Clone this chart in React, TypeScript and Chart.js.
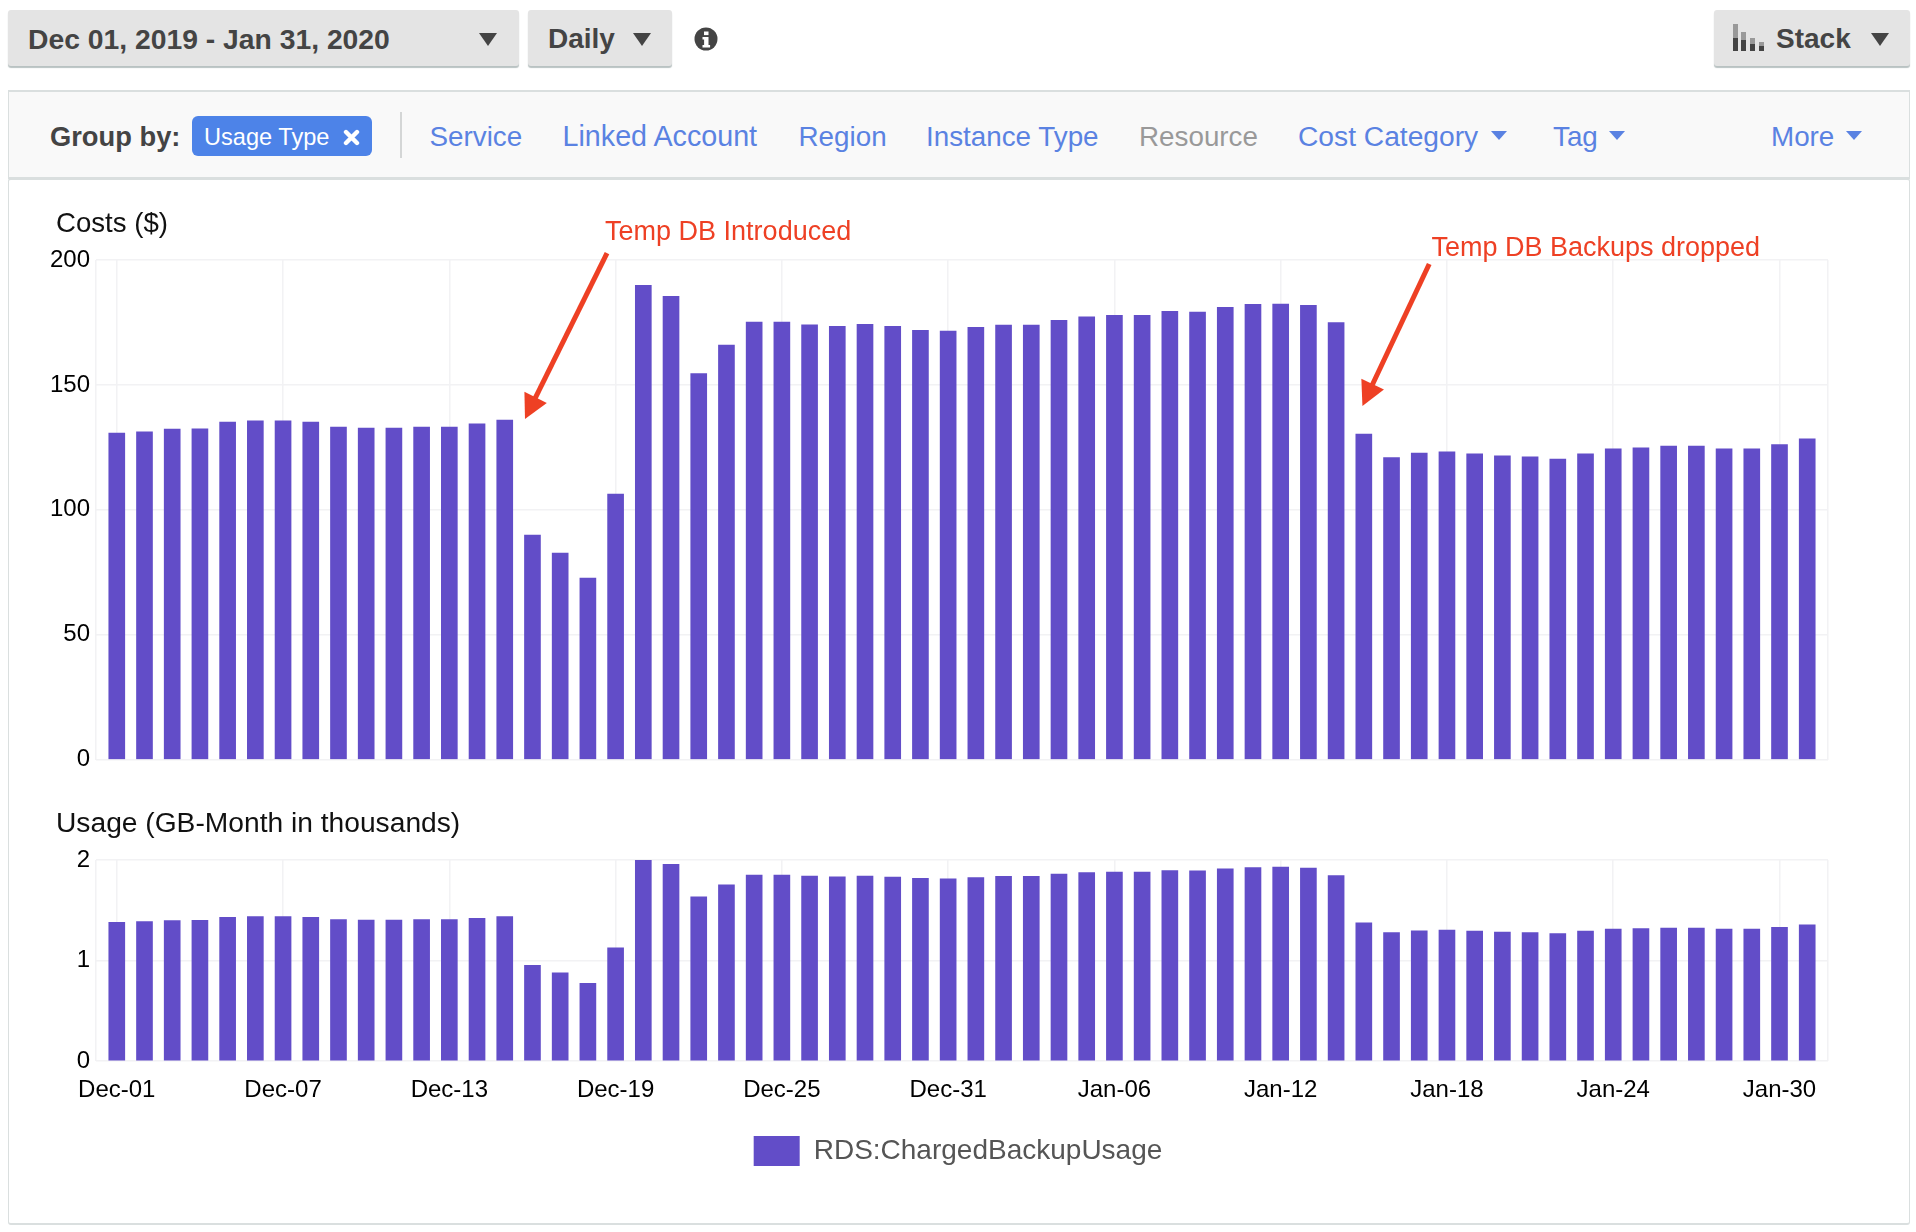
import React, { useEffect, useRef } from "react";
import { Chart, registerables } from "chart.js";

Chart.register(...registerables);

const FONT = '"Liberation Sans", Arial, sans-serif';
const BAR = "#624dc8";
const GRID = "#f2f2f4";
const RED = "#ee4024";
const LINK = "#5a82e2";

const categories = [
  "Dec-01","Dec-02","Dec-03","Dec-04","Dec-05","Dec-06","Dec-07","Dec-08","Dec-09","Dec-10","Dec-11",
  "Dec-12","Dec-13","Dec-14","Dec-15","Dec-16","Dec-17","Dec-18","Dec-19","Dec-20","Dec-21","Dec-22",
  "Dec-23","Dec-24","Dec-25","Dec-26","Dec-27","Dec-28","Dec-29","Dec-30","Dec-31","Jan-01","Jan-02",
  "Jan-03","Jan-04","Jan-05","Jan-06","Jan-07","Jan-08","Jan-09","Jan-10","Jan-11","Jan-12","Jan-13",
  "Jan-14","Jan-15","Jan-16","Jan-17","Jan-18","Jan-19","Jan-20","Jan-21","Jan-22","Jan-23","Jan-24",
  "Jan-25","Jan-26","Jan-27","Jan-28","Jan-29","Jan-30","Jan-31",
];

const costs = [
  130.7,131.2,132.3,132.4,135.1,135.6,135.6,135.1,133.1,132.7,132.7,133.1,133.1,134.4,135.9,
  89.9,82.7,72.7,106.3,189.9,185.5,154.5,165.9,175.2,175.2,174.1,173.5,174.3,173.5,171.9,171.6,
  173.1,174,174,175.9,177.3,177.9,177.9,179.5,179.2,181.1,182.3,182.4,181.9,175,
  130.3,120.9,122.7,123.2,122.4,121.6,121.2,120.3,122.4,124.4,124.8,125.5,125.5,124.4,124.4,126.1,128.4,
];

const usage = [
  1.38,1.387,1.397,1.4,1.43,1.437,1.437,1.43,1.407,1.403,1.403,1.407,1.407,1.42,1.437,
  0.953,0.877,0.773,1.127,2.0,1.957,1.633,1.753,1.85,1.85,1.84,1.833,1.84,1.83,1.817,1.813,
  1.826,1.839,1.839,1.86,1.876,1.88,1.88,1.896,1.893,1.913,1.926,1.93,1.92,1.846,
  1.375,1.278,1.296,1.304,1.294,1.284,1.278,1.268,1.294,1.314,1.318,1.324,1.324,1.314,1.314,1.331,1.355,
];

const seriesName = "RDS:ChargedBackupUsage";
const tickEvery = 6;
const xMin = -0.75;
const xMax = 61.75;

const annotations = [
  { text: "Temp DB Introduced", textIndex: 17.62, textValue: 211, tailIndex: 17.69, tailValue: 202.8, tipIndex: 14.73, tipValue: 136.4 },
  { text: "Temp DB Backups dropped", textIndex: 47.44, textValue: 204.6, tailIndex: 47.36, tailValue: 198.4, tipIndex: 44.95, tipValue: 141.6 },
];

const annotationPlugin = {
  id: "callouts",
  afterDatasetsDraw(chart: any) {
    const { ctx, scales } = chart;
    const x = scales.x;
    const y = scales.y;
    ctx.save();
    for (const a of annotations) {
      const tx = x.getPixelForValue(a.tailIndex);
      const ty = y.getPixelForValue(a.tailValue);
      const px = x.getPixelForValue(a.tipIndex);
      const py = y.getPixelForValue(a.tipValue);
      const len = Math.hypot(px - tx, py - ty);
      const dx = (px - tx) / len;
      const dy = (py - ty) / len;
      const bx = px - dx * 24;
      const by = py - dy * 24;
      ctx.strokeStyle = RED;
      ctx.fillStyle = RED;
      ctx.lineWidth = 5;
      ctx.beginPath();
      ctx.moveTo(tx, ty);
      ctx.lineTo(bx + dx * 4, by + dy * 4);
      ctx.stroke();
      ctx.beginPath();
      ctx.moveTo(px, py);
      ctx.lineTo(bx - dy * 12.5, by + dx * 12.5);
      ctx.lineTo(bx + dy * 12.5, by - dx * 12.5);
      ctx.closePath();
      ctx.fill();
      ctx.font = `27px ${FONT}`;
      ctx.textAlign = "left";
      ctx.textBaseline = "middle";
      ctx.fillText(a.text, x.getPixelForValue(a.textIndex), y.getPixelForValue(a.textValue));
    }
    ctx.restore();
  },
};

const boxShift = {
  id: "boxShift",
  afterLayout(chart: any) {
    if (chart.titleBlock) {
      chart.titleBlock.left += 6;
      chart.titleBlock.right += 6;
    }
    if (chart.legend) {
      chart.legend.left += 19;
      chart.legend.right += 19;
    }
  },
};

function buildConfig(values: number[], title: string, titleSize: number, yMax: number, step: number, showX: boolean, xH: number, titleTop: number, titleBottom: number, plugins: any[]) {
  return {
    type: "bar",
    data: {
      datasets: [
        {
          label: seriesName,
          data: values.map((v, i) => ({ x: i, y: v })),
          backgroundColor: BAR,
          borderWidth: 0,
          barThickness: 16,
        },
      ],
    },
    plugins,
    options: {
      animation: false,
      responsive: false,
      layout: { padding: { left: 50, right: 88, top: 0, bottom: showX ? 56 : 0 } },
      plugins: {
        tooltip: { enabled: false },
        title: {
          display: true,
          text: title,
          align: "start",
          color: "#111",
          font: { family: FONT, size: titleSize, weight: "normal", lineHeight: 1.2 },
          padding: { top: titleTop, bottom: titleBottom },
        },
        legend: showX
          ? {
              display: true,
              position: "bottom",
              labels: {
                boxWidth: 46,
                boxHeight: 30,
                color: "#555",
                font: { family: FONT, size: 28 },
              },
            }
          : { display: false },
      },
      scales: {
        x: {
          type: "linear",
          offset: false,
          min: xMin,
          max: xMax,
          border: { display: false },
          grid: { color: GRID, lineWidth: 1.5, drawTicks: false, offset: false },
          afterBuildTicks(axis: any) {
            const t: any[] = [{ value: xMin }];
            categories.forEach((_, i) => {
              if (i % tickEvery === 0) t.push({ value: i });
            });
            t.push({ value: xMax });
            axis.ticks = t;
          },
          afterFit(axis: any) {
            axis.height = xH;
          },
          ticks: {
            display: showX,
            autoSkip: false,
            maxRotation: 0,
            color: "#000",
            padding: 15,
            font: { family: FONT, size: 24 },
            callback: (v: number) => (Number.isInteger(v) ? categories[v] : ""),
          },
        },
        y: {
          min: 0,
          max: yMax,
          border: { display: false },
          grid: { color: GRID, lineWidth: 1.5, drawTicks: false },
          afterFit(axis: any) {
            axis.width = 46;
          },
          ticks: {
            stepSize: step,
            color: "#000",
            padding: 6,
            font: { family: FONT, size: 24 },
          },
        },
      },
    },
  };
}

function Txt({ x, cy, size = 27.8, color = "#444", bold = false, children }: any) {
  return (
    <span
      style={{
        position: "absolute",
        left: x,
        top: cy - 25,
        height: 50,
        lineHeight: "50px",
        fontFamily: FONT,
        fontSize: size,
        fontWeight: bold ? 700 : 400,
        color,
        whiteSpace: "nowrap",
      }}
    >
      {children}
    </span>
  );
}

function Caret({ x, y, w, h, color }: any) {
  return (
    <div
      style={{
        position: "absolute",
        left: x,
        top: y,
        width: 0,
        height: 0,
        borderLeft: `${w / 2}px solid transparent`,
        borderRight: `${w / 2}px solid transparent`,
        borderTop: `${h}px solid ${color}`,
      }}
    />
  );
}

function Btn({ x, w }: any) {
  return (
    <div
      style={{
        position: "absolute",
        left: x,
        top: 10,
        width: w,
        height: 56,
        background: "#e4e4e4",
        borderRadius: 3,
        boxShadow: "0 2px 1px #b9c2c2",
      }}
    />
  );
}

export default function App() {
  const topRef = useRef<HTMLCanvasElement>(null);
  const botRef = useRef<HTMLCanvasElement>(null);

  useEffect(() => {
    const c1 = new Chart(
      topRef.current as any,
      buildConfig(costs, "Costs ($)", 27.6, 200, 50, false, 20, 17.4, 19.5, [annotationPlugin, boxShift]) as any
    );
    const c2 = new Chart(
      botRef.current as any,
      buildConfig(usage, "Usage (GB-Month in thousands)", 28.2, 2, 1, true, 65, 17, 19.2, [boxShift]) as any
    );
    return () => {
      c1.destroy();
      c2.destroy();
    };
  }, []);

  return (
    <div style={{ position: "absolute", left: 0, top: 0, width: 1916, height: 1232, background: "#fff", overflow: "hidden" }}>
      <Btn x={8} w={511} />
      <Txt x={28} cy={39} size={28.3} bold>Dec 01, 2019 - Jan 31, 2020</Txt>
      <Caret x={479} y={33} w={19} h={13} color="#444" />
      <Btn x={528} w={144} />
      <Txt x={548} cy={39} size={28} bold>Daily</Txt>
      <Caret x={633} y={33} w={19} h={13} color="#444" />
      <svg style={{ position: "absolute", left: 694, top: 27 }} width={24} height={24} viewBox="0 0 24 24">
        <circle cx={12} cy={12} r={11.5} fill="#444" />
        <rect x={10} y={4.5} width={4.5} height={3.6} fill="#fff" />
        <path d="M8.5 10h6v8h1.6v2.4H8.5V18h1.6v-5.6H8.5z" fill="#fff" />
      </svg>
      <Btn x={1714} w={196} />
      <svg style={{ position: "absolute", left: 1733, top: 24 }} width={32} height={27} viewBox="0 0 32 27">
        <rect x={0} y={0} width={5} height={14} fill="#999" />
        <rect x={0} y={14} width={5} height={13} fill="#444" />
        <rect x={8} y={8} width={5} height={8} fill="#999" />
        <rect x={8} y={16} width={5} height={11} fill="#444" />
        <rect x={17} y={14} width={5} height={6} fill="#999" />
        <rect x={17} y={20} width={5} height={7} fill="#444" />
        <rect x={26} y={18} width={5} height={4} fill="#999" />
        <rect x={26} y={22} width={5} height={5} fill="#444" />
      </svg>
      <Txt x={1776} cy={39} size={28} bold>Stack</Txt>
      <Caret x={1871} y={33} w={19} h={13} color="#444" />

      <div
        style={{
          position: "absolute",
          left: 8,
          top: 90,
          width: 1902,
          height: 89,
          boxSizing: "border-box",
          background: "#f9f9f9",
          borderTop: "2px solid #dadfdf",
          borderBottom: "2px solid #dadfdf",
          borderLeft: "1px solid #dadfdf",
          borderRight: "1px solid #dadfdf",
        }}
      />
      <div
        style={{
          position: "absolute",
          left: 8,
          top: 178,
          width: 1902,
          height: 1047,
          boxSizing: "border-box",
          borderTop: "2px solid #dadfdf",
          borderBottom: "2px solid #dadfdf",
          borderLeft: "1px solid #dadfdf",
          borderRight: "1px solid #dadfdf",
          borderRadius: 3,
        }}
      />
      <Txt x={50} cy={137} size={27.3} bold>Group by:</Txt>
      <div style={{ position: "absolute", left: 192, top: 116, width: 180, height: 40, background: "#4d83e8", borderRadius: 6 }} />
      <Txt x={204} cy={136.5} size={23.6} color="#fff">Usage Type</Txt>
      <svg style={{ position: "absolute", left: 343, top: 129 }} width={17} height={17} viewBox="0 0 17 17">
        <path d="M3 3L14 14M14 3L3 14" stroke="#fff" strokeWidth={4.4} strokeLinecap="round" />
      </svg>
      <div style={{ position: "absolute", left: 400, top: 112, width: 2, height: 46, background: "#d4d6d6" }} />
      <Txt x={429.5} cy={137} color={LINK}>Service</Txt>
      <Txt x={562.5} cy={136} size={28.7} color={LINK}>Linked Account</Txt>
      <Txt x={798.5} cy={137} color={LINK}>Region</Txt>
      <Txt x={926} cy={137} color={LINK}>Instance Type</Txt>
      <Txt x={1139} cy={137} color="#999">Resource</Txt>
      <Txt x={1298} cy={136} size={28.2} color={LINK}>Cost Category</Txt>
      <Caret x={1491} y={131} w={16} h={9} color={LINK} />
      <Txt x={1553} cy={137} color={LINK}>Tag</Txt>
      <Caret x={1609} y={131} w={16} h={9} color={LINK} />
      <Txt x={1771} cy={137} color={LINK}>More</Txt>
      <Caret x={1846} y={131} w={16} h={9} color={LINK} />

      <canvas ref={topRef} width={1916} height={590} style={{ position: "absolute", left: 0, top: 190, width: 1916, height: 590 }} />
      <canvas ref={botRef} width={1916} height={442} style={{ position: "absolute", left: 0, top: 790, width: 1916, height: 442 }} />
    </div>
  );
}
